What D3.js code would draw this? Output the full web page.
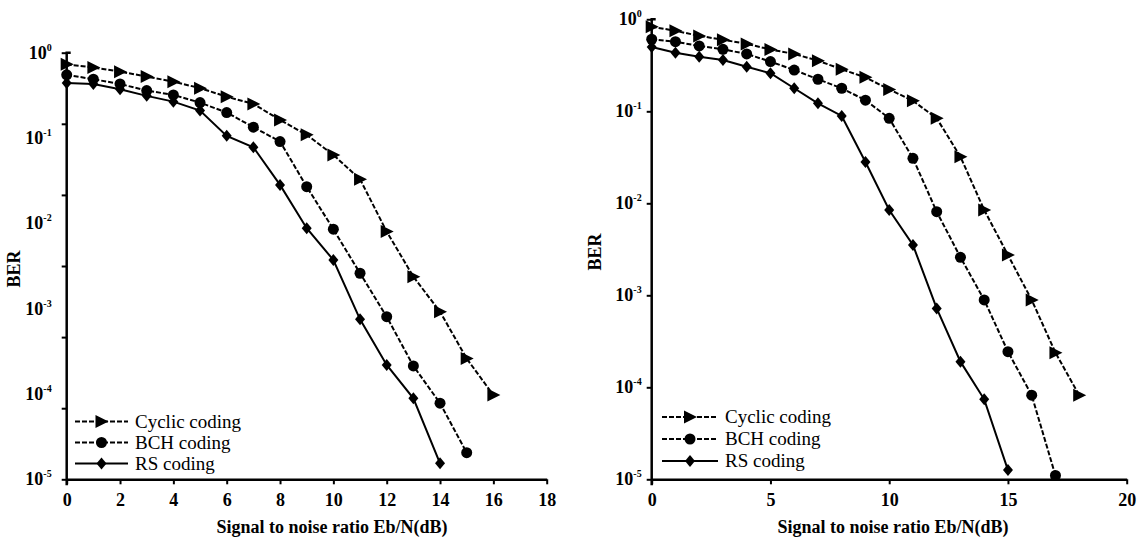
<!DOCTYPE html>
<html><head><meta charset="utf-8">
<script src="https://cdn.jsdelivr.net/npm/d3@7"></script>
</head><body style="margin:0">
<svg id="c" width="1146" height="542"></svg>
<script>
// ---------- data ----------
const seriesNames = ["Cyclic coding", "BCH coding", "RS coding"];

const leftCyclicX = [0,1,2,3,4,5,6,7,8,9,10,11,12,13,14,15,16];
const leftCyclicY = [0.73,0.67,0.60,0.525,0.458,0.384,0.305,0.251,0.163,0.109,0.0634,0.0329,0.0080,0.00237,0.00092,0.00026,0.000097];
const leftBchX = [0,1,2,3,4,5,6,7,8,9,10,11,12,13,14,15];
const leftBchY = [0.55,0.489,0.43,0.36,0.32,0.26,0.199,0.134,0.091,0.0269,0.00853,0.0026,0.000805,0.000213,0.000078,0.0000205];
const leftRsX = [0,1,2,3,4,5,6,7,8,9,10,11,12,13,14];
const leftRsY = [0.44,0.43,0.373,0.312,0.267,0.21,0.106,0.078,0.0282,0.00877,0.00372,0.00075,0.000219,0.000089,0.0000154];

const rightCyclicX = [0,1,2,3,4,5,6,7,8,9,10,11,12,13,14,15,16,17,18];
const rightCyclicY = [0.83,0.75,0.66,0.60,0.54,0.47,0.42,0.355,0.286,0.234,0.173,0.130,0.084,0.0321,0.00845,0.00274,0.00089,0.000238,0.000082];
const rightBchX = [0,1,2,3,4,5,6,7,8,9,10,11,12,13,14,15,16,17];
const rightBchY = [0.607,0.571,0.513,0.472,0.42,0.347,0.281,0.223,0.178,0.132,0.084,0.0308,0.0081,0.00259,0.00089,0.000244,0.000082,0.000011];
const rightRsX = [0,1,2,3,4,5,6,7,8,9,10,11,12,13,14,15];
const rightRsY = [0.50,0.434,0.392,0.361,0.305,0.259,0.178,0.122,0.089,0.0281,0.00845,0.00352,0.00072,0.00019,0.000074,0.0000126];

const leftXTicks = [0,2,4,6,8,10,12,14,16,18];
const rightXTicks = [0,5,10,15,20];
const yDecadeExps = [0,-1,-2,-3,-4,-5];
// left panel tick marks are spaced in six equal steps (as drawn in the original)
const leftYTickMarks = [1, 0.1468, 0.02154, 0.003162, 0.000464, 0.0000681, 0.00001];
const xTitle = "Signal to noise ratio Eb/N(dB)";
const yTitle = "BER";

// ---------- drawing ----------
const FAM = '"Liberation Serif"';
const svg = d3.select("#c");
const FONT = 18;

function txt(sel) { return sel.style("font-family", FAM).attr("fill", "#000"); }

function panel(cfg) {
  const x = d3.scaleLinear().domain(cfg.xDomain).range([cfg.x0, cfg.x1]);
  const y = d3.scaleLog().domain([1e-5, 1]).range([cfg.y1, cfg.y0]);
  const g = svg.append("g");

  // x axis
  const xa = g.append("g").attr("transform", `translate(0,${cfg.y1})`)
    .call(d3.axisBottom(x).tickValues(cfg.xTicks).tickSize(5).tickSizeOuter(0).tickFormat(d3.format("d")));
  xa.attr("font-family", null).attr("font-size", null);
  xa.select(".domain").attr("stroke-width", 2.5);
  xa.selectAll(".tick line").attr("stroke-width", 2);
  txt(xa.selectAll(".tick text")).attr("y", 27).attr("dy", 0)
    .style("font-size", FONT + "px").style("font-weight", "bold");

  // y axis: tick marks
  const ya = g.append("g").attr("transform", `translate(${cfg.x0},0)`)
    .call(d3.axisLeft(y).tickValues(cfg.yTickMarks).tickSize(5).tickSizeOuter(0).tickFormat(""));
  ya.select(".domain").attr("stroke-width", 2.5).attr("d", `M0,${cfg.y1 + 6}V${cfg.y0}H4`);
  ya.selectAll(".tick line").attr("stroke-width", 2);

  // y axis labels at decades
  const lab = g.append("g");
  yDecadeExps.forEach(e => {
    const t = txt(lab.append("text"))
      .attr("x", cfg.x0 - 10 - cfg.labShift)
      .attr("y", y(Math.pow(10, e)) + 6)
      .attr("text-anchor", "end")
      .style("font-size", FONT + "px").style("font-weight", "bold");
    t.append("tspan").text("10");
    t.append("tspan").style("font-size", "10px").attr("dy", -8).text(String(e));
  });

  // axis titles
  txt(g.append("text")).attr("x", cfg.titleX).attr("y", 533).attr("text-anchor", "middle")
    .style("font-size", FONT + "px").style("font-weight", "bold").text(xTitle);
  txt(g.append("text")).attr("transform", `translate(${cfg.berX},${cfg.berY}) rotate(-90)`)
    .attr("text-anchor", "middle").style("font-size", FONT + "px").style("font-weight", "bold").text(yTitle);

  // series
  const line = d3.line().x(d => x(d[0])).y(d => y(d[1]));
  const styles = [
    {dash: "5,2", shape: "tri"},
    {dash: "5,2", shape: "circ"},
    {dash: null, shape: "dia"}
  ];
  cfg.series.forEach((s, i) => {
    const pts = s.x.map((v, k) => [v, s.y[k]]);
    g.append("path").datum(pts).attr("d", line).attr("fill", "none")
      .attr("stroke", "#000").attr("stroke-width", 2)
      .attr("stroke-dasharray", styles[i].dash);
    pts.forEach(p => marker(g, styles[i].shape, x(p[0]), y(p[1])));
  });

  // legend
  seriesNames.forEach((name, i) => {
    const ly = cfg.legY + i * cfg.legStep;
    g.append("line").attr("x1", cfg.legX).attr("x2", cfg.legX + cfg.legLen)
      .attr("y1", ly).attr("y2", ly).attr("stroke", "#000").attr("stroke-width", 2)
      .attr("stroke-dasharray", styles[i].dash);
    marker(g, styles[i].shape, cfg.legX + cfg.legLen / 2, ly);
    txt(g.append("text")).attr("x", cfg.legX + cfg.legLen + 7).attr("y", ly + 6)
      .style("font-size", "19px").text(name);
  });
}

function marker(g, shape, cx, cy) {
  if (shape === "circ") {
    g.append("circle").attr("cx", cx).attr("cy", cy).attr("r", 5.5).attr("fill", "#000");
  } else if (shape === "tri") {
    g.append("path").attr("d", "M-6,-6.5L7,0L-6,6.5Z").attr("transform", `translate(${cx},${cy})`).attr("fill", "#000");
  } else {
    g.append("path").attr("d", "M0,-6L5,0L0,6L-5,0Z").attr("transform", `translate(${cx},${cy})`).attr("fill", "#000");
  }
}

panel({
  xDomain: [0, 18], x0: 66.7, x1: 546.7, y0: 52.7, y1: 479.3,
  xTicks: leftXTicks, yTickMarks: leftYTickMarks, labShift: 5,
  titleX: 332, berX: 20, berY: 269,
  legX: 75, legLen: 53, legY: 421.5, legStep: 21,
  series: [
    {x: leftCyclicX, y: leftCyclicY},
    {x: leftBchX, y: leftBchY},
    {x: leftRsX, y: leftRsY}
  ]
});

panel({
  xDomain: [0, 20], x0: 651.7, x1: 1126.7, y0: 19.3, y1: 479.3,
  xTicks: rightXTicks, yTickMarks: yDecadeExps.map(e => Math.pow(10, e)), labShift: 0,
  titleX: 893, berX: 601, berY: 252,
  legX: 662, legLen: 56, legY: 417, legStep: 22,
  series: [
    {x: rightCyclicX, y: rightCyclicY},
    {x: rightBchX, y: rightBchY},
    {x: rightRsX, y: rightRsY}
  ]
});
</script>
</body></html>
